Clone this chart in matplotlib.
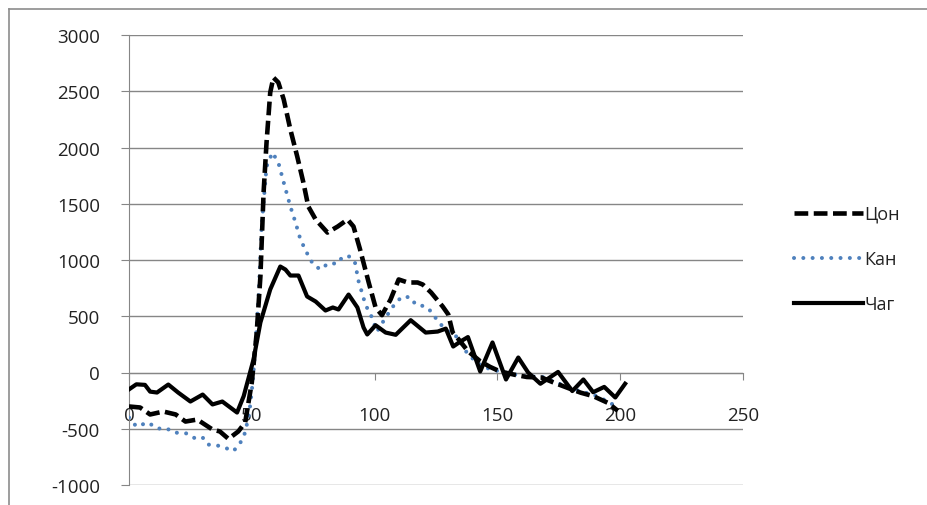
import matplotlib
matplotlib.use("Agg")
import matplotlib.pyplot as plt
from matplotlib.lines import Line2D

plt.rcParams['font.family'] = ['Open Sans', 'DejaVu Sans']
plt.rcParams['axes.unicode_minus'] = False

# ---- data ----
tson_x = [0, 4.5, 8.6, 14, 19, 23, 27.8, 34, 37, 40.5, 44.5, 47.3, 50, 52, 53.5, 54.8, 56, 57.5,
          58.8, 60.8, 63, 65.7, 68.5, 71, 73, 76, 80.8, 85, 89, 91.4, 94, 97.6, 100.4, 103, 106.5,
          109.8, 113.5, 117.5, 119.6, 123, 127.7, 130, 131.8, 134, 138, 143, 147, 151, 157, 162,
          168, 173, 179, 184, 189, 195, 199]
tson_y = [-302, -311, -373, -347, -373, -436, -418, -507, -524, -590, -524, -444, -89, 355, 853,
          1600, 2044, 2489, 2622, 2578, 2427, 2160, 1920, 1689, 1476, 1360, 1244, 1298, 1360, 1298,
          1100, 800, 578, 510, 649, 827, 800, 800, 782, 711, 587, 516, 355, 300, 190, 100, 50, 10,
          -20, -40, -45, -90, -140, -180, -210, -270, -340]

kan_x = [0, 3, 7.8, 11.4, 15.5, 18, 23.7, 27, 30, 32, 36, 39, 42.4, 45, 47.3, 49, 50.3, 51.4, 52.7,
         53.5, 54, 56, 58.4, 60.8, 63, 65.7, 67.8, 69.8, 72.5, 75, 78, 81, 85, 87, 90, 92, 93.5,
         95, 96.3, 98.4, 101, 104.5, 108.6, 111.4, 114.7, 116.7, 120.8, 123, 125.3, 127.7, 130,
         134, 137.5, 141.5, 145, 151, 157, 162, 168, 173, 179, 184, 189, 195, 199]
kan_y = [-400, -480, -444, -498, -498, -533, -542, -587, -578, -640, -649, -667, -700, -640, -533,
         -356, -100, 204, 649, 1031, 1298, 1831, 1955, 1867, 1689, 1476, 1333, 1182, 1060, 960,
         915, 969, 969, 1031, 1031, 978, 809, 700, 600, 516, 364, 489, 622, 676, 667, 604, 587,
         542, 471, 409, 364, 310, 178, 89, 44, 9, -18, -36, -36, -80, -133, -169, -196, -258, -311]

chag_x = [0, 3, 6.5, 8.6, 11.4, 16, 20, 25, 30, 34, 38, 44, 46.7, 50.7, 53.5, 57.5, 61.6, 63.7,
          65.7, 69, 72.5, 76, 80, 83, 85.3, 89.4, 93, 95.5, 97, 100.4, 104.5, 108.6, 114.7, 120.8,
          125.7, 129, 132, 135, 138, 143, 148, 153.5, 158.5, 162.5, 167.5, 174.7, 180.5, 185, 189,
          193.5, 198, 202]
chag_y = [-150, -105, -110, -170, -178, -107, -178, -258, -196, -284, -258, -356, -210, 115, 444,
          738, 942, 915, 862, 862, 676, 631, 551, 578, 560, 693, 578, 400, 338, 420, 355, 335, 465,
          355, 364, 390, 231, 276, 315, 9, 267, -62, 133, 0, -100, 5, -165, -62, -175, -128, -222,
          -100]

series_names = ["Цон", "Кан", "Чаг"]
x_ticks = [0, 50, 100, 150, 200, 250]
y_ticks = [-1000, -500, 0, 500, 1000, 1500, 2000, 2500, 3000]

# ---- figure ----
W, H = 928, 506
fig = plt.figure(figsize=(W / 100, H / 100), dpi=100)
ax = fig.add_axes([129 / W, (H - 486) / H, (743 - 129) / W, (486 - 36) / H])

grid_c = '#868686'
ax.set_xlim(0, 250)
ax.set_ylim(-1000, 3000)
ax.set_yticks(y_ticks)
ax.set_xticks(x_ticks)
for yv in y_ticks:
    ax.axhline(yv, color=grid_c, lw=1.0, zorder=1)

ax.plot(tson_x, tson_y, color='black', lw=3.3, linestyle=(0, (3.0, 1.2)),
        label=series_names[0], zorder=4)
ax.plot(kan_x, kan_y, color='#4f81bd', lw=2.9, linestyle=(0, (0.01, 2.3)),
        dash_capstyle='round', label=series_names[1], zorder=3)
ax.plot(chag_x, chag_y, color='black', lw=3.0, label=series_names[2], zorder=5)

for s in ['top', 'right']:
    ax.spines[s].set_visible(False)
ax.spines['left'].set_color(grid_c)
ax.spines['bottom'].set_color(grid_c)
ax.spines['bottom'].set_position(('data', 0))
ax.tick_params(axis='y', direction='out', length=6, color=grid_c, pad=15,
               labelsize=13.5, labelcolor='#222222')
ax.tick_params(axis='x', direction='out', length=5, color=grid_c, pad=19,
               labelsize=13.5, labelcolor='#222222')

leg = ax.legend(loc='upper left', bbox_to_anchor=(794 / W, (H - 206) / H),
                bbox_transform=fig.transFigure, frameon=False, fontsize=13,
                handlelength=3.8, handletextpad=0.1, labelspacing=1.5,
                borderaxespad=0, borderpad=0)
for t in leg.get_texts():
    t.set_color('#222222')

# outer chart border (top and left)
border_c = '#8c8c8c'
fig.add_artist(Line2D([9.5 / W, 1], [1 - 9.5 / H, 1 - 9.5 / H], color=border_c, lw=1.2,
                      transform=fig.transFigure))
fig.add_artist(Line2D([9.5 / W, 9.5 / W], [0, 1 - 9.5 / H], color=border_c, lw=1.2,
                      transform=fig.transFigure))

fig.savefig("out.png", dpi=100)
